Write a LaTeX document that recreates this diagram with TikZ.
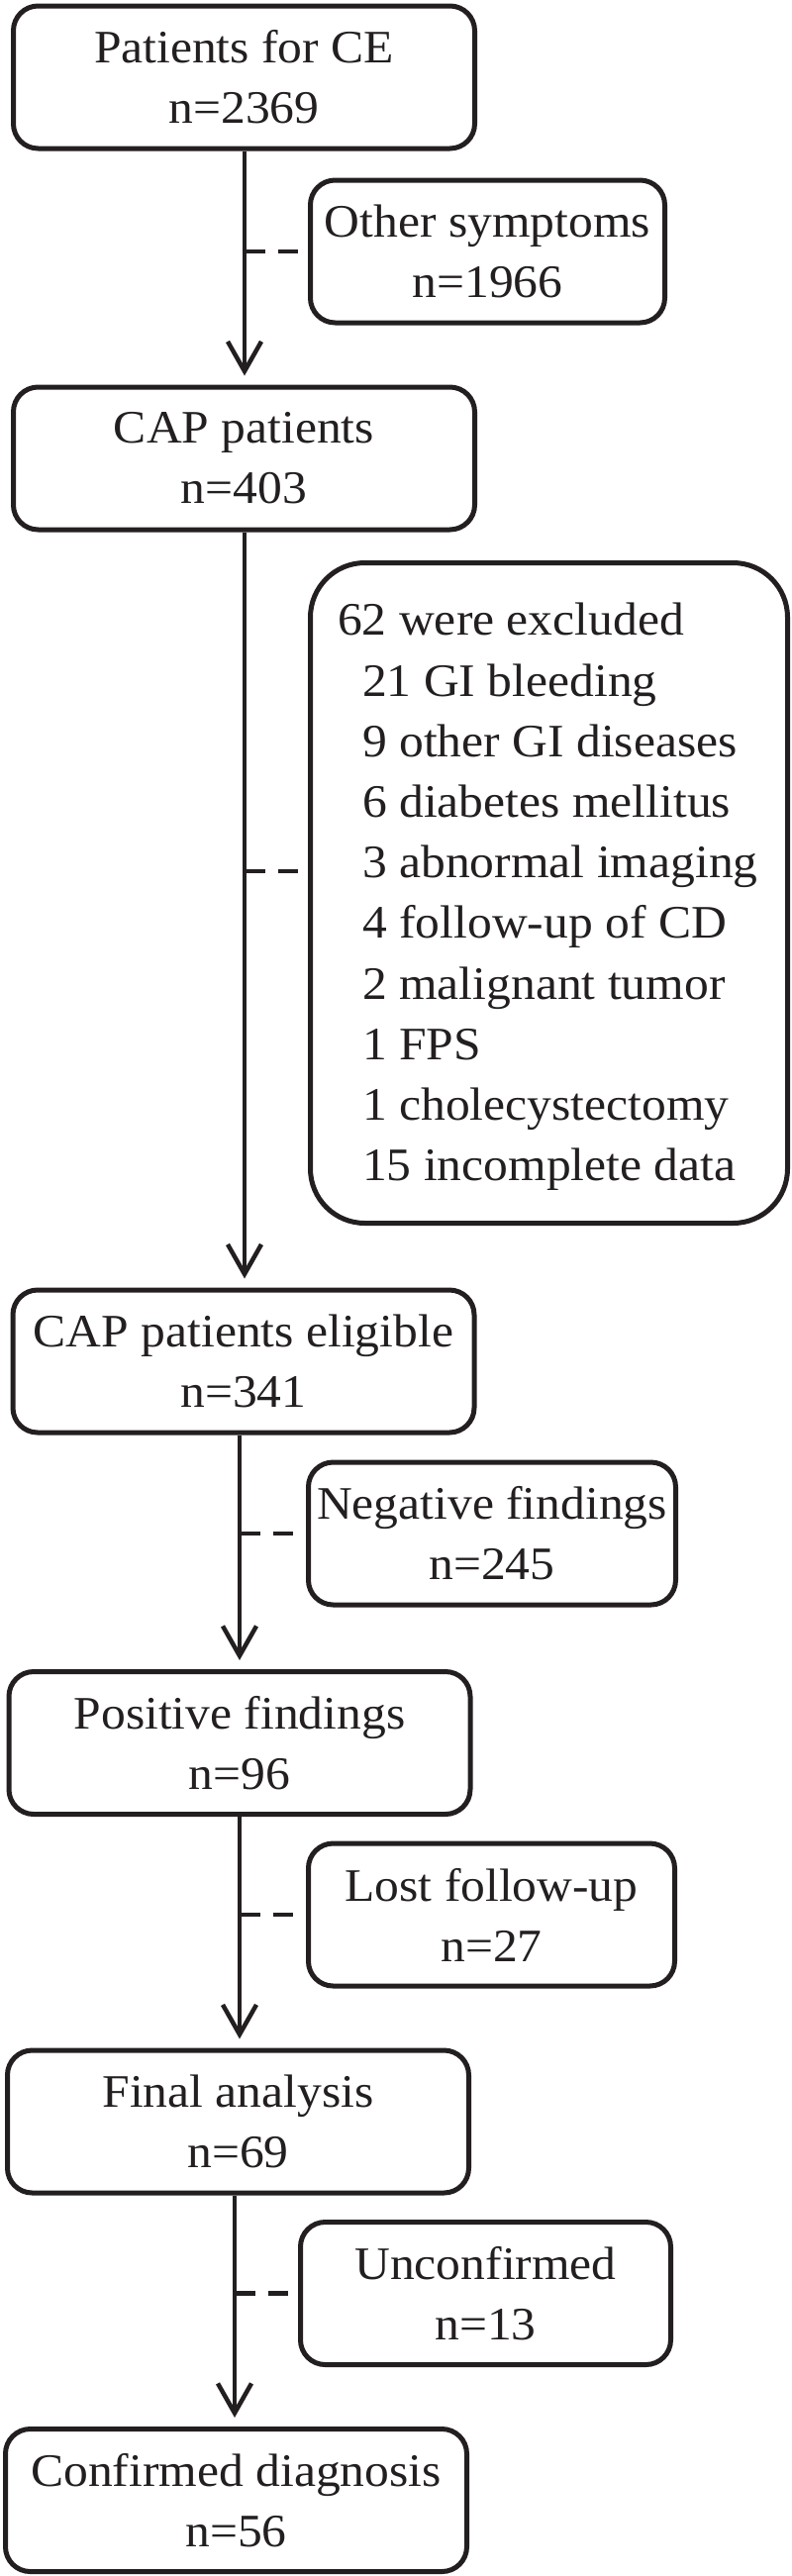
\documentclass[tikz,border=0pt]{standalone}
\usepackage{fontspec}
\setmainfont{Liberation Serif}[FakeStretch=1.055]
\usetikzlibrary{arrows.meta}
\definecolor{ink}{RGB}{35,31,32}
\begin{document}
\begin{tikzpicture}[x=1pt,y=-1pt,
  box/.style={draw=ink, line width=5pt, rounded corners=25pt, minimum width=466pt,
    minimum height=144pt, align=center, text=ink, inner sep=0pt,
    font=\fontsize{47}{61}\selectfont},
  side/.style={box, minimum width=#1},
  arr/.style={draw=ink, line width=4.5pt, -{Straight Barb[length=30pt,width=34pt]}, shorten >=9pt},
  dashline/.style={draw=ink, line width=4.5pt, dash pattern=on 21pt off 13pt on 20pt off 200pt}
]
\useasboundingbox (0,0) rectangle (800,2602);

\node[box] (b1) at (246.5,78) {Patients for CE\\n=2369};
\node[side=358pt] (o1) at (492.5,254) {Other symptoms\\n=1966};
\node[box] (b2) at (246.5,463) {CAP patients\\n=403};
\node[box, minimum width=482pt, minimum height=667pt, rounded corners=55pt] (ex) at (554.5,902) {};
\node[anchor=west, align=left, inner sep=0pt, text=ink, font=\fontsize{47}{61.2}\selectfont] (extext) at (341,906)
 {62 were excluded\\
  \hspace*{25pt}21 GI bleeding\\
  \hspace*{25pt}9 other GI diseases\\
  \hspace*{25pt}6 diabetes mellitus\\
  \hspace*{25pt}3 abnormal imaging\\
  \hspace*{25pt}4 follow-up of CD\\
  \hspace*{25pt}2 malignant tumor\\
  \hspace*{25pt}1 FPS\\
  \hspace*{25pt}1 cholecystectomy\\
  \hspace*{25pt}15 incomplete data};
\node[box] (b3) at (246,1375) {CAP patients eligible\\n=341};
\node[side=371pt] (neg) at (497,1549) {Negative findings\\n=245};
\node[box] (b4) at (242,1760.5) {Positive findings\\n=96};
\node[side=370pt] (lost) at (496.5,1934) {Lost follow-up\\n=27};
\node[box] (b5) at (240.5,2143) {Final analysis\\n=69};
\node[side=374pt] (unc) at (490.5,2316.5) {Unconfirmed\\n=13};
\node[box] (b6) at (238.5,2525.5) {Confirmed diagnosis\\n=56};

\coordinate (xa) at (247,0);
\coordinate (xb) at (242,0);
\coordinate (xc) at (237,0);
\coordinate (exd) at (311,880);

\draw[arr] (b1.south -| xa) -- (b2.north -| xa);
\draw[arr] (b2.south -| xa) -- (b3.north -| xa);
\draw[arr] (b3.south -| xb) -- (b4.north -| xb);
\draw[arr] (b4.south -| xb) -- (b5.north -| xb);
\draw[arr] (b5.south -| xc) -- (b6.north -| xc);

\draw[dashline] (o1.west -| xa) -- (o1.west);
\draw[dashline] (exd -| xa) -- (exd);
\draw[dashline] (neg.west -| xb) -- (neg.west);
\draw[dashline] (lost.west -| xb) -- (lost.west);
\draw[dashline] (unc.west -| xc) -- (unc.west);
\end{tikzpicture}
\end{document}
